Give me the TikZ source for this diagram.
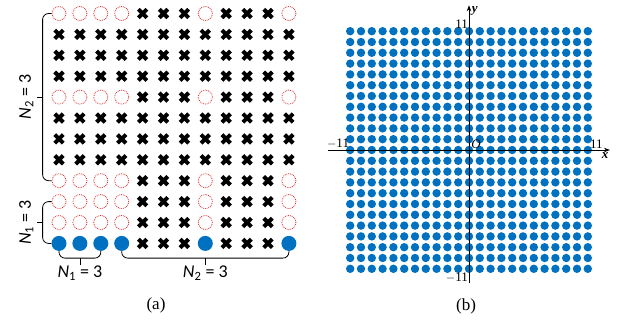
\documentclass[tikz,border=0pt]{standalone}
\usepackage{fontspec}
\setmainfont{Liberation Serif}
\newfontfamily\labfont{Carlito}
\usetikzlibrary{arrows.meta,positioning,calc,shapes.misc}
\definecolor{ptblue}{RGB}{0,112,192}
\definecolor{ptred}{RGB}{225,40,40}
\tikzset{
  xmark/.style={cross out, draw=black, line width=4pt, minimum size=8.5pt, inner sep=0pt, outer sep=0pt},
  ring/.style={circle, draw=ptred, densely dotted, line width=0.8pt, minimum size=14pt, inner sep=0pt},
  bdot/.style={circle, fill=ptblue, minimum size=15pt, inner sep=0pt},
  bracket/.style={draw=black, line width=0.8pt, rounded corners=6pt},
  nlabel/.style={font=\labfont\fontsize{18}{21}\selectfont, inner sep=1pt},
  caplabel/.style={font=\fontsize{17}{20}\selectfont},
  axis/.style={-{Stealth[length=6pt,width=4.5pt]}, line width=0.8pt},
  ticklabel/.style={font=\fontsize{13}{15}\selectfont, inner sep=1pt}
}

\begin{document}
\begin{tikzpicture}[x=1pt,y=-1pt]
  \useasboundingbox (0,0) rectangle (619,324);

  % (a) pilot pattern
  \foreach \j in {0,...,11} {
    \foreach \i in {0,...,11} {
      \pgfmathtruncatemacro{\kind}{((\j==0 || \j==4 || \j>7) && (\i<4 || \i==7 || \i==11))*(1+(\j==11))}
      \ifcase\kind
        \node[xmark] (g-\i-\j) at (59+20.9*\i,13.5+20.9*\j) {};
      \or
        \node[ring] (g-\i-\j) at (59+20.9*\i,13.5+20.9*\j) {};
      \or
        \node[bdot] (g-\i-\j) at (59+20.9*\i,13.5+20.9*\j) {};
      \fi
    }
  }

  \draw[bracket] (g-0-0.west) -- ++(-9,0) |- (g-0-8.west);
  \draw[bracket] (g-0-9.west) -- ++(-9,0) |- (g-0-11.west);
  \draw[bracket] (g-0-11.south) -- ++(0,7) -| (g-2-11.south);
  \draw[bracket] (g-3-11.south) -- ++(0,7) -| (g-11-11.south);

  \coordinate (n2mid) at ($(g-0-4.west)+(-9,0)$);
  \coordinate (n1mid) at ($(g-0-10.west)+(-9,0)$);
  \coordinate (m1mid) at ($(g-1-11.south)+(0,7)$);
  \coordinate (m2mid) at ($(g-7-11.south)+(0,7)$);
  \coordinate (n2end) at ($(n2mid)+(-6,0)$);
  \coordinate (n1end) at ($(n1mid)+(-6,0)$);
  \coordinate (m1end) at ($(m1mid)+(0,7)$);
  \coordinate (m2end) at ($(m2mid)+(0,7)$);
  \draw[bracket] (n2mid) -- (n2end);
  \draw[bracket] (n1mid) -- (n1end);
  \draw[bracket] (m1mid) -- (m1end);
  \draw[bracket] (m2mid) -- (m2end);

  \node[nlabel, rotate=90, anchor=south, inner sep=3pt] (n2lab) at (n2end) {\textit{N}\textsubscript{2} = 3};
  \node[nlabel, rotate=90, anchor=south, inner sep=3pt] (n1lab) at (n1end) {\textit{N}\textsubscript{1} = 3};
  \node[nlabel, anchor=north] (m1lab) at (m1end) {\textit{N}\textsubscript{1} = 3};
  \node[nlabel, anchor=north] (m2lab) at (m2end) {\textit{N}\textsubscript{2} = 3};

  \node[caplabel] (capa) at (156,305) {(a)};

  % (b) full lattice
  \begin{scope}[shift={(469,150)}, x=10.8pt, y=10.8pt]
    \foreach \i in {-11,...,11}
      \foreach \k in {-11,...,11}
        \fill[ptblue] (\i,\k) circle[radius=4.2pt];

    \coordinate (xs) at (-13.05,0);
    \coordinate (xe) at (13.05,0);
    \coordinate (ys) at (0,-12.3);
    \coordinate (ye) at (0,13.4);
    \draw[axis] (xs) -- (xe);
    \draw[axis] (ys) -- (ye);

    \node[ticklabel, anchor=south east] (ytop) at (0,11.15) {11};
    \node[ticklabel, anchor=north east] (ybot) at (0,-11.3) {$-$11};
    \node[ticklabel, anchor=south east] (xlft) at (-11,0) {$-$11};
    \node[ticklabel, anchor=south west] (xrgt) at (11.1,0) {11};
    \node[ticklabel, anchor=south west] (orig) at (0.1,0) {\textit{O}};
    \node[ticklabel, anchor=north] (xlab) at (12.6,-0.15) {\textbf{\textit{x}}};
    \node[ticklabel, anchor=west] (ylab) at (0.15,12.9) {\textbf{\textit{y}}};
  \end{scope}

  \node[caplabel] (capb) at (466,306) {(b)};
\end{tikzpicture}
\end{document}
